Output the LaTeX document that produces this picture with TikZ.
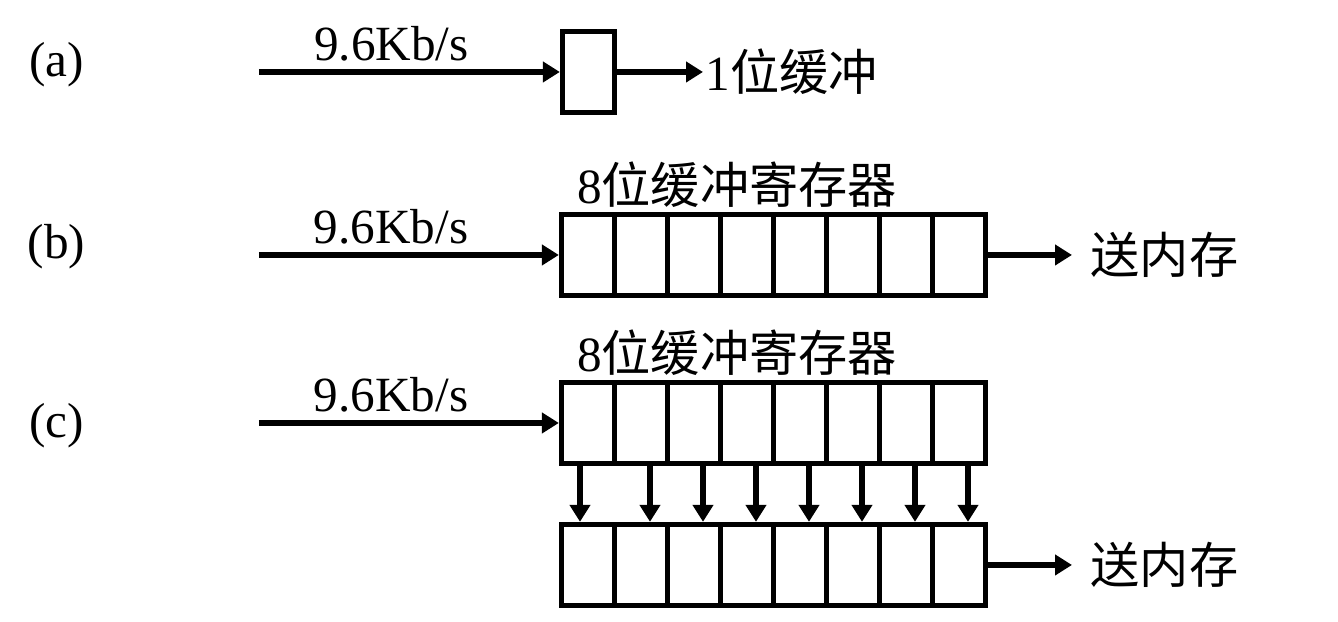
\documentclass[tikz,border=0pt]{standalone}
\usepackage{fontspec}
\setmainfont{Liberation Serif}
\newfontfamily\cjk{Noto Sans CJK SC}
\usetikzlibrary{positioning, arrows.meta, calc}

\begin{document}
\begin{tikzpicture}[->,>={Triangle[length=0.17cm,width=0.2cm]},line width=1.5pt,
    font=\fontsize{14}{16}\selectfont,
    cell/.style={draw,-,inner sep=0pt,minimum width=0.53cm,minimum height=0.81cm},
    rate/.style={anchor=base,inner sep=0pt,pos=0.44,yshift=0.11cm},
    txt/.style={inner sep=0pt}]
  \useasboundingbox (0,0) rectangle (13.38,6.22);
  % row labels
  \node (la) at (0.565,5.57) {(a)};
  \node (lb) at (0.565,3.75) {(b)};
  \node (lc) at (0.565,1.96) {(c)};
  % (a) one bit
  \node[cell,minimum width=0.52cm] (one) at (5.885,5.50) {};
  \coordinate (ina) at (2.59,5.50);
  \coordinate (outa) at (7.03,5.50);
  \draw (ina) -- node[rate] {9.6Kb/s} (one.west);
  \draw (one.east) -- (outa);
  \node[txt,right=0.0cm of outa] (bufa) {1{\cjk 位缓冲}};
  % (b) 8-bit register
  \foreach \i in {1,...,8}
    \node[cell] (b\i) at ({5.88+0.53*(\i-1)},3.67) {};
  \coordinate (inb) at (2.59,3.67);
  \coordinate (outb) at (10.72,3.67);
  \draw (inb) -- node[rate] {9.6Kb/s} (b1.west);
  \draw (b8.east) -- (outb);
  \node[txt,right=0.16cm of outb] (memb) {\cjk 送内存};
  \node[txt,anchor=base west] (regb) at ($(b1.north west)+(0.155,0.08)$) {8{\cjk 位缓冲寄存器}};
  % (c) two registers
  \foreach \i in {1,...,8} {
    \node[cell] (t\i) at ({5.88+0.53*(\i-1)},1.99) {};
    \node[cell] (u\i) at ({5.88+0.53*(\i-1)},0.57) {};
  }
  \coordinate (inc) at (2.59,1.99);
  \coordinate (outc) at (10.72,0.57);
  \draw (inc) -- node[rate] {9.6Kb/s} (t1.west);
  \draw (u8.east) -- (outc);
  \node[txt,right=0.16cm of outc] (memc) {\cjk 送内存};
  \node[txt,anchor=base west] (regc) at ($(t1.north west)+(0.155,0.08)$) {8{\cjk 位缓冲寄存器}};
  \foreach \i/\dx in {1/-0.08,2/0.09,3/0.09,4/0.09,5/0.09,6/0.09,7/0.09,8/0.09}
    \draw ([xshift=\dx cm]t\i.south) -- ([xshift=\dx cm]u\i.north);
\end{tikzpicture}
\end{document}
